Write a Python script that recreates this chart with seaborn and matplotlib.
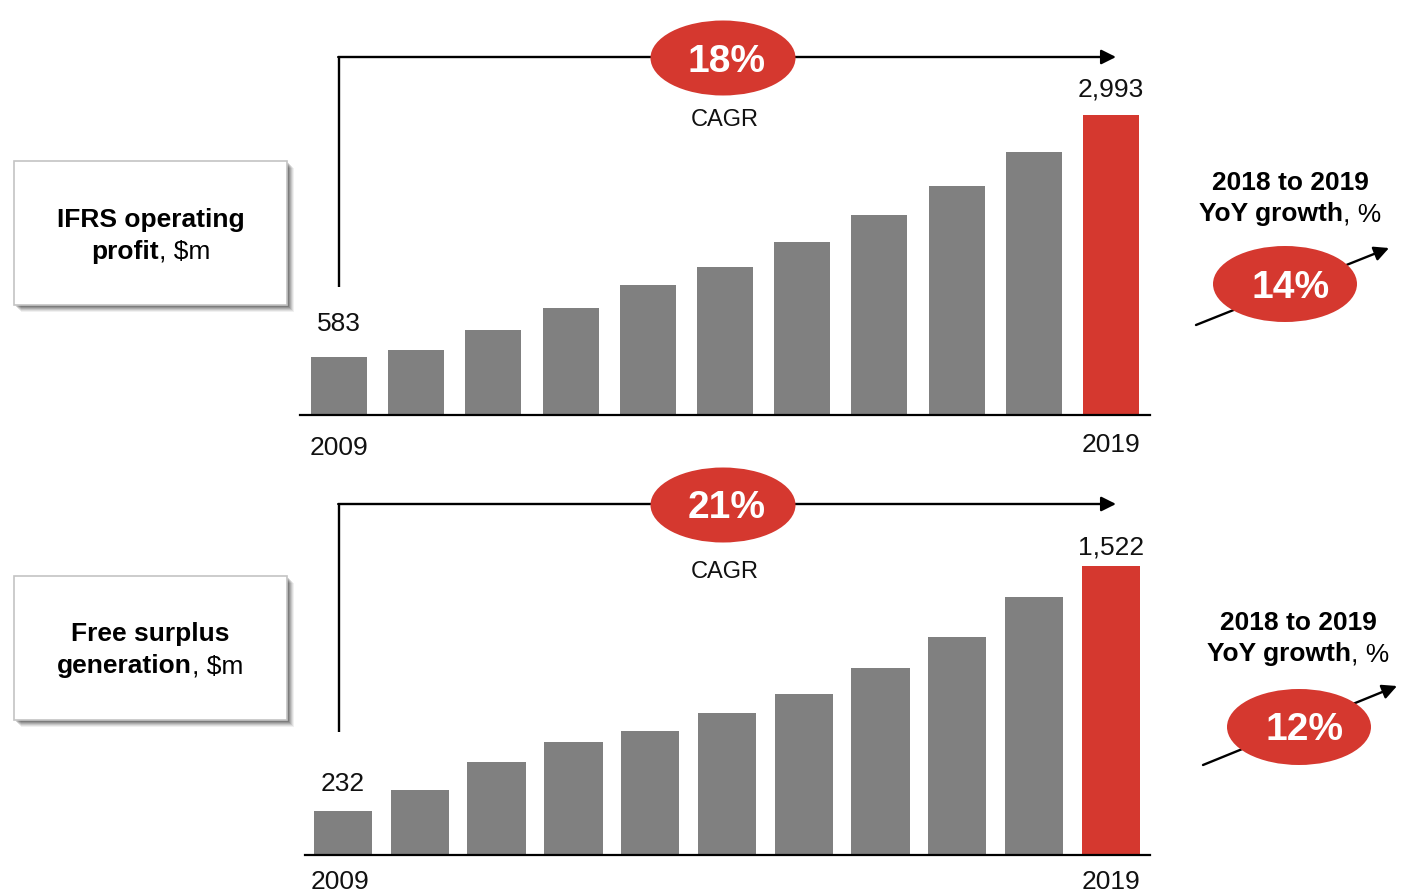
import matplotlib
matplotlib.use("Agg")
import matplotlib.pyplot as plt
from matplotlib.patches import Ellipse, Rectangle, FancyArrowPatch
import seaborn as sns
import pandas as pd

# ---- data ----
years = [str(y) for y in range(2009, 2020)]
ifrs_profit = [583, 644, 843, 1072, 1301, 1480, 1729, 1998, 2286, 2625, 2993]
free_surplus = [232, 340, 488, 597, 655, 750, 850, 986, 1150, 1358, 1522]
panel_titles = [[("IFRS operating", "bold")], [("profit", "bold"), (", $m", "normal")]]
panel_titles2 = [[("Free surplus", "bold")], [("generation", "bold"), (", $m", "normal")]]
cagr_labels = ["18%", "21%"]
yoy_labels = ["14%", "12%"]

GREY = "#808080"
RED = "#D5382F"

sns.set_theme(style="white")
plt.rcParams["font.family"] = ["Liberation Sans", "DejaVu Sans"]

W, H = 1413, 894
fig = plt.figure(figsize=(W / 100, H / 100), dpi=100)
fig.patch.set_facecolor("white")


def bar_panel(rect, values, width, ylim, xlim):
    ax = fig.add_axes(rect)
    df = pd.DataFrame({"year": years, "value": values})
    palette = {y: (RED if i == len(years) - 1 else GREY) for i, y in enumerate(years)}
    sns.barplot(data=df, x="year", y="value", hue="year", palette=palette,
                legend=False, width=width, saturation=1, ax=ax, edgecolor="none")
    ax.set_xlim(*xlim)
    ax.set_ylim(0, ylim)
    ax.set_xticks([])
    ax.set_yticks([])
    ax.set_xlabel("")
    ax.set_ylabel("")
    for s in ["top", "left", "right"]:
        ax.spines[s].set_visible(False)
    ax.spines["bottom"].set_color("black")
    ax.spines["bottom"].set_linewidth(1.6)
    ax.patch.set_alpha(0)
    return ax


ax1 = bar_panel([300 / W, 1 - 415 / H, 850 / W, 395 / H], ifrs_profit, 0.725, 3940, (-0.505, 10.505))
ax2 = bar_panel([305 / W, 1 - 855 / H, 845 / W, 385 / H], free_surplus, 0.76, 2027, (-0.495, 10.51))

# value labels on first and last bars, year labels under them
for ax, vals, offs, yoffs, xo in [(ax1, ifrs_profit, (23.5, 18.5), (-23.5, -21.5), 0),
                                  (ax2, free_surplus, (19.5, 13.5), (-19.5, -19.5), -2.5)]:
    for i, off, yoff in [(0, offs[0], yoffs[0]), (len(vals) - 1, offs[1], yoffs[1])]:
        ax.annotate(f"{vals[i]:,}", (i, vals[i]), xytext=(0, off), textcoords="offset points",
                    ha="center", va="center", fontsize=19, color="#111111")
        ax.annotate(years[i], (i, 0), xytext=(xo if i == 0 else 0, yoff),
                    textcoords="offset points",
                    ha="center", va="center", fontsize=19, color="#111111")

# overlay in pixel coordinates for the callouts
ov = fig.add_axes([0, 0, 1, 1], zorder=10)
ov.set_xlim(0, W)
ov.set_ylim(H, 0)
ov.axis("off")
ov.patch.set_alpha(0)
renderer = fig.canvas.get_renderer()
DY = 2.5  # vertical nudge so glyphs sit on their visual centre


def rich_line(x, y, parts, size):
    texts = []
    for s, w in parts:
        t = ov.text(0, y + DY, s, fontsize=size, fontweight=w, ha="left", va="center",
                    color="black", parse_math=False)
        texts.append(t)
    widths = [t.get_window_extent(renderer).width for t in texts]
    cur = x - sum(widths) / 2
    for t, w in zip(texts, widths):
        t.set_x(cur)
        cur += w


def label_box(x0, y0, x1, y1, lines, line_y):
    # soft drop shadow
    for k, a in [(7, 0.06), (6, 0.08), (5, 0.10), (4, 0.12), (3, 0.14), (2, 0.16)]:
        ov.add_patch(Rectangle((x0 + k, y0 + k), x1 - x0, y1 - y0, facecolor="black",
                               edgecolor="none", alpha=a, zorder=1))
    ov.add_patch(Rectangle((x0, y0), x1 - x0, y1 - y0, facecolor="white",
                           edgecolor="#c4c4c4", linewidth=1.2, zorder=2))
    cx = (x0 + x1) / 2
    for parts, ly in zip(lines, line_y):
        rich_line(cx, ly, parts, 19)


label_box(14, 161, 287, 305, panel_titles, [217, 249])
label_box(14, 576, 287, 720, panel_titles2, [632, 664])


def cagr(y_line, y_start, label, label_y):
    ov.plot([339, 339], [y_start, y_line], color="black", lw=1.7, zorder=3,
            solid_capstyle="butt")
    ov.add_patch(FancyArrowPatch((338.2, y_line), (1116, y_line), arrowstyle="-|>",
                                 mutation_scale=22, lw=1.7, color="black",
                                 shrinkA=0, shrinkB=0, zorder=3))
    ov.add_patch(Ellipse((723, y_line + 1), 145, 75, facecolor=RED, edgecolor="none", zorder=4))
    ov.text(727, y_line + 4.5, label, fontsize=28, fontweight="bold", color="white",
            ha="center", va="center", zorder=5)
    ov.text(725, label_y + DY, "CAGR", fontsize=17, color="#111111", ha="center", va="center", zorder=5)


cagr(57, 287, cagr_labels[0], 117)
cagr(504, 732, cagr_labels[1], 569)


def yoy(cx, ty, p0, p1, ecx, ecy, label):
    rich_line(cx, ty, [("2018 to 2019", "bold")], 19)
    rich_line(cx, ty + 32, [("YoY growth", "bold"), (", %", "normal")], 19)
    ov.add_patch(FancyArrowPatch(p0, p1, arrowstyle="-|>", mutation_scale=22, lw=1.7,
                                 color="black", shrinkA=0, shrinkB=0, zorder=3))
    ov.add_patch(Ellipse((ecx, ecy), 144, 76, facecolor=RED, edgecolor="none", zorder=4))
    ov.text(ecx + 6, ecy + 3.5, label, fontsize=28, fontweight="bold", color="white",
            ha="center", va="center", zorder=5)


yoy(1290, 180, (1196, 325), (1389, 248), 1285, 284, yoy_labels[0])
yoy(1298, 620, (1203, 765), (1397, 686), 1299, 727, yoy_labels[1])

fig.savefig("out.png", dpi=100, facecolor="white")
